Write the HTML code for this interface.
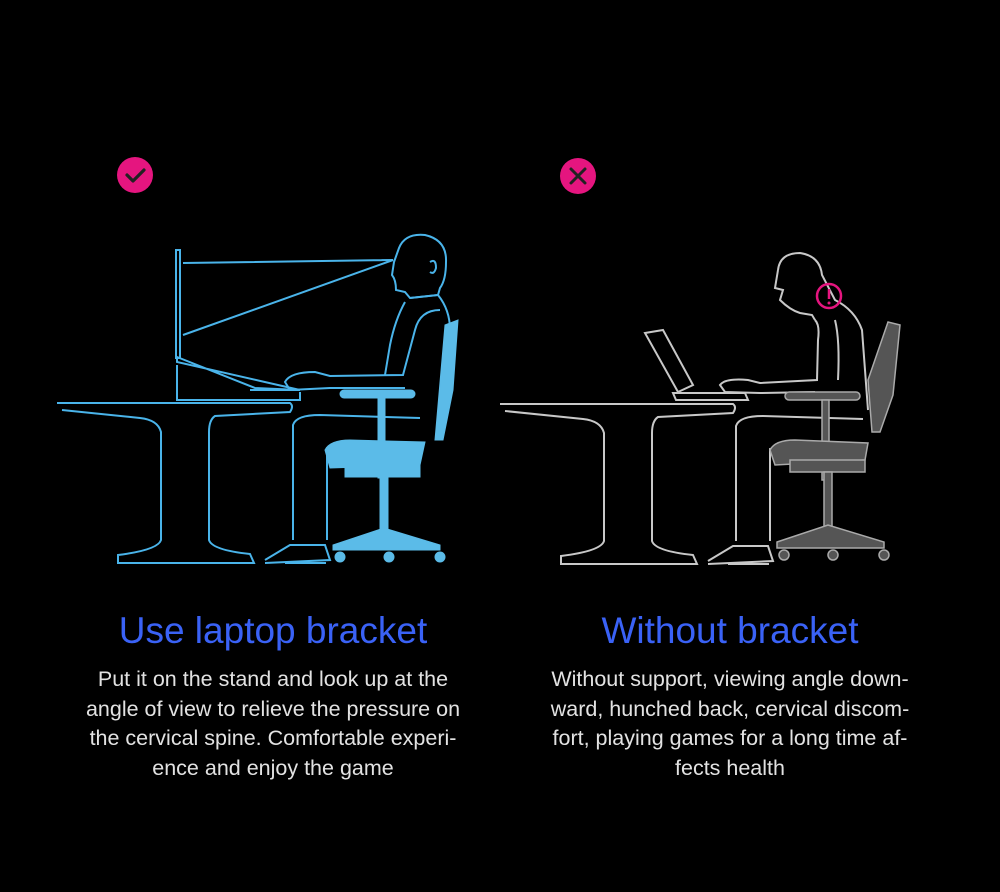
<!DOCTYPE html>
<html><head><meta charset="utf-8"><style>
html,body{margin:0;padding:0;background:#000;}
#w{position:relative;width:1000px;height:892px;background:#000;overflow:hidden;font-family:"Liberation Sans",sans-serif;}
.t{position:absolute;width:460px;text-align:center;color:#3a62f6;font-size:37px;top:610px;white-space:nowrap;}
.b{position:absolute;width:460px;text-align:center;color:#e2e2e2;font-size:21.5px;line-height:29.5px;top:665px;}
.b div{white-space:nowrap;}
svg{position:absolute;left:0;top:0;}
</style></head><body><div id="w">
<svg width="1000" height="892" viewBox="0 0 1000 892">
<defs>
<g id="desk" fill="none" stroke-width="2">
<path d="M57 403 L290 403 Q294 406 290 412 L215 416 Q209 420 209 432 L209 540 Q212 550 250 554 L254 563 L118 563 L118 555 Q158 550 161 540 L161 432 Q158 420 140 418 L62 410"/>
<path d="M285 563 L326 563 M265 560 L290 545 L325 545 L330 560 L265 563"/>
<path d="M293 540 L293 425 Q296 415 320 415 L420 418 M327 540 L327 448 L340 445"/>
</g>
</defs>
<circle cx="135" cy="175" r="18" fill="#e5157f"/>
<path d="M127 175 L133 181 L144 170" stroke="#222" stroke-width="3.2" fill="none" stroke-linecap="round" stroke-linejoin="round"/>
<circle cx="578" cy="176" r="18" fill="#e5157f"/>
<path d="M571 169 L585 183 M585 169 L571 183" stroke="#222" stroke-width="3" stroke-linecap="round"/>

<g stroke="#4ab4ea" fill="none" stroke-width="2">
<use href="#desk" stroke="#4ab4ea"/>
<rect x="176" y="250" width="4" height="108"/>
<path d="M183 263 L393 260 L183 335"/>
<path d="M177 357 L255 388 L300 390 L177 362 Z"/>
<path d="M177 365 L177 400 L300 400 L300 392"/>
<path d="M399 248 Q405 233 425 235 Q447 240 446 262 Q446 280 440 288 L438 295 L410 298 L405 292 L396 290 Q396 280 392 275 L394 262 Z"/>
<path d="M430 262 Q436 258 436 268 Q434 275 430 272"/>
<path d="M410 298 L438 295 Q450 310 450 330 L445 405"/>
<path d="M405 302 Q395 320 390 345 L385 375"/>
<path d="M440 310 Q420 310 415 330 L403 375 L330 376 L315 372 Q290 372 285 382 L290 390 L330 388 L405 388"/>
<path d="M250 390 L300 390"/>
</g>
<g fill="#5bbbe8" stroke="#5bbbe8">
<path d="M445 325 L458 320 L453 390 L443 440 L435 440 Z"/>
<rect x="340" y="390" width="75" height="8" rx="4"/>
<rect x="378" y="398" width="7" height="80"/>
<path d="M325 450 Q330 440 350 440 L425 442 L420 465 L330 468 Z"/>
<rect x="345" y="465" width="75" height="12"/>
<rect x="380" y="477" width="8" height="60"/>
<path d="M333 545 L384 528 L440 545 L440 550 L333 550 Z"/>
<circle cx="340" cy="557" r="5"/><circle cx="389" cy="557" r="5"/><circle cx="440" cy="557" r="5"/>
</g>

<g transform="translate(443,1)" stroke="#c8c8c8" fill="none" stroke-width="2">
<use href="#desk"/>
</g>
<g stroke="#c8c8c8" fill="none" stroke-width="2">
<path d="M645 333 L663 330 L693 385 L678 392 Z"/>
<path d="M673 393 L745 393 L748 400 L676 400 Z"/>
<path d="M778 270 Q780 253 800 253 Q820 256 822 275 L835 300 Q855 310 862 330 L868 410"/>
<path d="M778 270 L775 288 L783 290 L780 300 Q790 310 800 313 L812 315 L815 320"/>
<path d="M815 320 Q820 325 818 340 L817 380 L760 383 L748 380 Q725 378 720 385 L725 392 L760 393 L815 392"/>
<path d="M835 320 Q840 340 838 380"/>
</g>
<g fill="#555" stroke="#aaa" stroke-width="1.5">
<path d="M888 322 L900 325 L893 395 L880 432 L872 432 L868 380 Z"/>
<rect x="785" y="392" width="75" height="8" rx="4"/>
<rect x="822" y="400" width="7" height="80"/>
<path d="M770 450 Q775 440 795 440 L868 443 L865 460 L775 465 Z"/>
<rect x="790" y="460" width="75" height="12"/>
<rect x="824" y="472" width="8" height="60"/>
<path d="M777 542 L828 525 L884 542 L884 548 L777 548 Z"/>
<circle cx="784" cy="555" r="5"/><circle cx="833" cy="555" r="5"/><circle cx="884" cy="555" r="5"/>
</g>
<circle cx="829" cy="296" r="12" fill="none" stroke="#e5157f" stroke-width="2.5"/>
<path d="M829 289 L829 299" stroke="#e5157f" stroke-width="2.5"/><circle cx="829" cy="303" r="1.5" fill="#e5157f"/>
</svg>

<div class="t" style="left:43px">Use laptop bracket</div>
<div class="t" style="left:500px">Without bracket</div>
<div class="b" style="left:43px">
<div>Put it on the stand and look up at the</div>
<div>angle of view to relieve the pressure on</div>
<div>the cervical spine. Comfortable experi-</div>
<div>ence and enjoy the game</div>
</div>
<div class="b" style="left:500px">
<div>Without support, viewing angle down-</div>
<div>ward, hunched back, cervical discom-</div>
<div>fort, playing games for a long time af-</div>
<div>fects health</div>
</div>
</div></body></html>
